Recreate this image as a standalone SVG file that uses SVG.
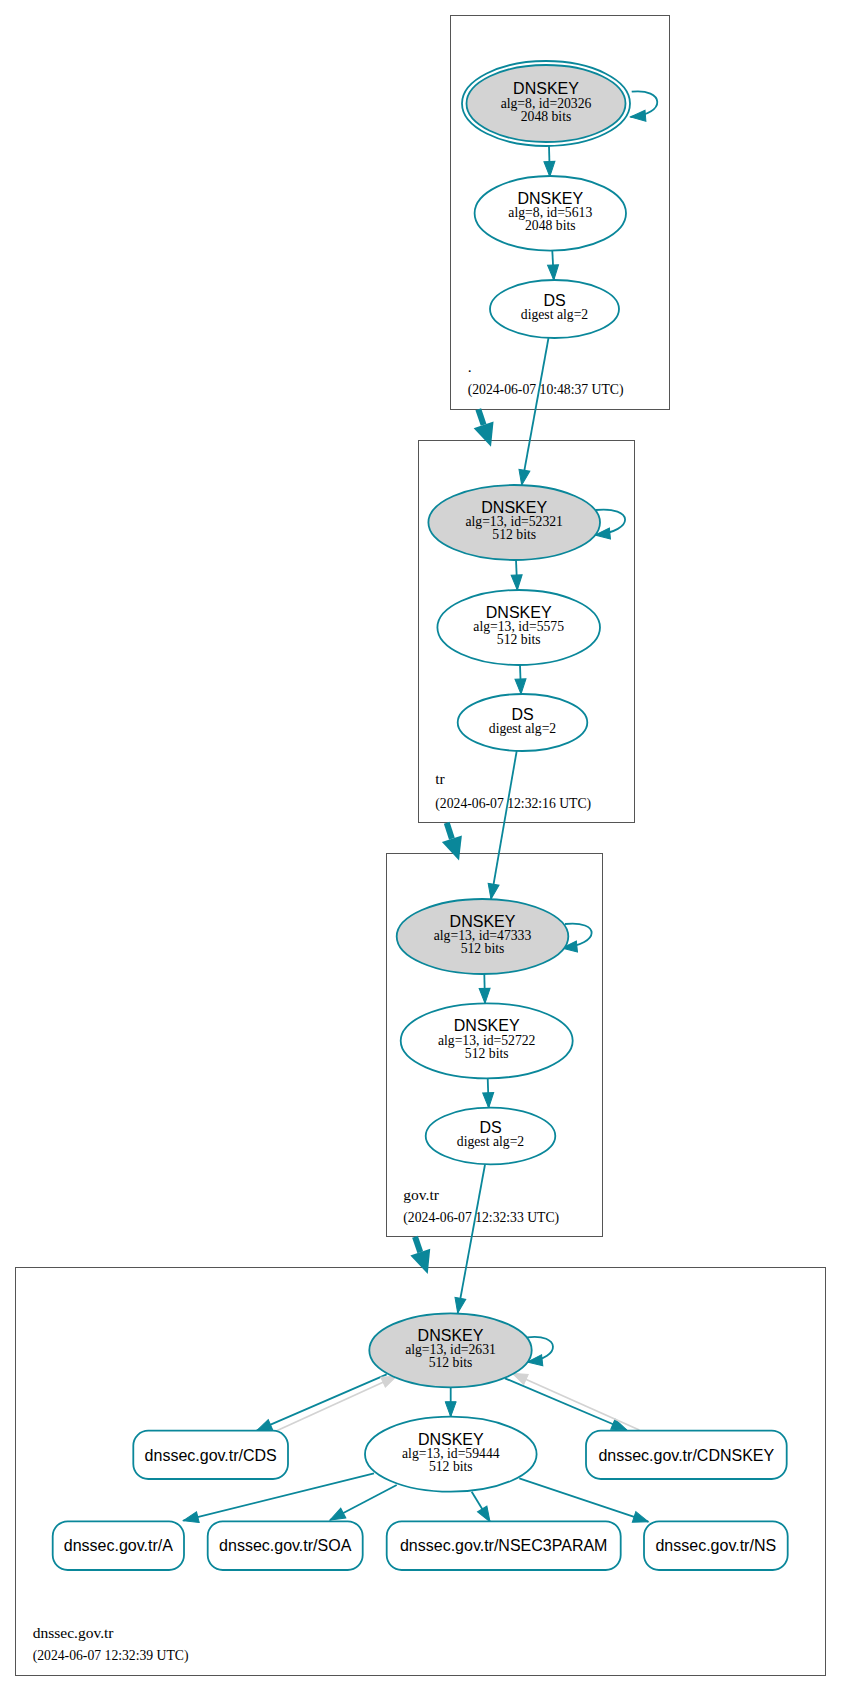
<svg xmlns="http://www.w3.org/2000/svg" width="841" height="1692" viewBox="0 0 841 1692">
<style>
.cl{fill:#fff;stroke:#555;stroke-width:1}
.nd{fill:#fff;stroke:#0a879a;stroke-width:1.8}
.ksk{fill:#d3d3d3;stroke:#0a879a;stroke-width:1.8}
.e{fill:none;stroke:#0a879a;stroke-width:1.8;marker-end:url(#ah)}
.g{fill:none;stroke:#d3d3d3;stroke-width:1.8;marker-end:url(#gh)}
.big{fill:none;stroke:#0a879a;stroke-width:6;marker-end:url(#bh)}
.h{font-family:"Liberation Sans",Arial,sans-serif;font-size:16px;text-anchor:middle;fill:#000}
.s{font-family:"Liberation Serif","Times New Roman",serif;font-size:13.7px;text-anchor:middle;fill:#000}
.zn{font-family:"Liberation Serif","Times New Roman",serif;font-size:15.5px;fill:#000}
.dt{font-family:"Liberation Serif","Times New Roman",serif;font-size:13.7px;fill:#000}
</style>
<defs>
<marker id="ah" markerUnits="userSpaceOnUse" markerWidth="17" markerHeight="13" refX="15" refY="5.5" orient="auto" overflow="visible"><path d="M0,0 L15,5.5 L0,11 z" fill="#0a879a" stroke="#0a879a" stroke-width="1"/></marker>
<marker id="gh" markerUnits="userSpaceOnUse" markerWidth="17" markerHeight="13" refX="15" refY="5.5" orient="auto" overflow="visible"><path d="M0,0 L15,5.5 L0,11 z" fill="#d3d3d3" stroke="#d3d3d3" stroke-width="1"/></marker>
<marker id="bh" markerUnits="userSpaceOnUse" markerWidth="24" markerHeight="22" refX="0" refY="10.5" orient="auto" overflow="visible"><path d="M0,0 L23,10.5 L0,21 z" fill="#0a879a"/></marker>
</defs>
<rect width="841" height="1692" fill="#fff"/>

<g id="cluster-root">
<rect class="cl" x="450.5" y="15.5" width="219" height="394"/>
<text class="zn" x="467.7" y="372">.</text>
<text class="dt" x="467.7" y="394">(2024-06-07 10:48:37 UTC)</text>
</g>
<g id="cluster-tr">
<rect class="cl" x="418.5" y="440.5" width="216" height="382"/>
<text class="zn" x="435.3" y="784">tr</text>
<text class="dt" x="435.3" y="808">(2024-06-07 12:32:16 UTC)</text>
</g>
<g id="cluster-gov-tr">
<rect class="cl" x="386.5" y="853.5" width="216" height="383"/>
<text class="zn" x="403.3" y="1200">gov.tr</text>
<text class="dt" x="403.3" y="1222">(2024-06-07 12:32:33 UTC)</text>
</g>
<g id="cluster-dnssec-gov-tr">
<rect class="cl" x="15.5" y="1267.5" width="810" height="408"/>
<text class="zn" x="32.7" y="1638">dnssec.gov.tr</text>
<text class="dt" x="32.7" y="1660">(2024-06-07 12:32:39 UTC)</text>
</g>

<g id="connectors">
<path class="big" d="M478.3,409.3 L483.6,424.9"/>
<path class="big" d="M446.7,822.7 L451.9,838.7"/>
<path class="big" d="M415,1236.7 L420.3,1252.2"/>
<path class="e" d="M631.7,91.7 C664,88 668,114 630.5,117"/>
<path class="e" d="M549,146 L549.8,176.5"/>
<path class="e" d="M552.3,250.7 L553.8,280"/>
<path class="e" d="M548.5,338 L521.7,485"/>
<path class="e" d="M595.5,510 C634,506 636,531 595,535"/>
<path class="e" d="M516,560 L517.3,590"/>
<path class="e" d="M520,665 L521,694"/>
<path class="e" d="M516.7,751 L491,899"/>
<path class="e" d="M565,924 C600,920 602,944 562,948"/>
<path class="e" d="M484.3,974 L485,1003.3"/>
<path class="e" d="M487.7,1078.3 L488.7,1107.7"/>
<path class="e" d="M485,1164.5 L457.7,1313"/>
<path class="e" d="M527.3,1337.3 C560,1333 563,1358 527.3,1362"/>
<path class="e" d="M450.7,1387.3 L450.7,1416.7"/>
<path class="e" d="M386.7,1374.3 L256.7,1430.7"/>
<path class="g" d="M276.7,1430.7 L396.7,1376"/>
<path class="e" d="M505,1378.3 L626.7,1430"/>
<path class="g" d="M639.3,1430 L512.3,1373.3"/>
<path class="e" d="M374,1473.3 L183.3,1520.7"/>
<path class="e" d="M396.7,1485 L330,1520"/>
<path class="e" d="M471.7,1491.7 L490,1521.7"/>
<path class="e" d="M519.3,1478.3 L648.3,1521.7"/>
</g>

<g id="root-dnskey-20326">
<ellipse class="nd" cx="546" cy="103.5" rx="84" ry="42.5"/>
<ellipse class="ksk" cx="546" cy="103.5" rx="79.5" ry="38.5"/>
<text class="h" x="546" y="94">DNSKEY</text>
<text class="s" x="546" y="107.5">alg=8, id=20326</text>
<text class="s" x="546" y="120.5">2048 bits</text>
</g>
<g id="root-dnskey-5613">
<ellipse class="nd" cx="550.3" cy="213.3" rx="75.7" ry="37.3"/>
<text class="h" x="550.3" y="204">DNSKEY</text>
<text class="s" x="550.3" y="217.3">alg=8, id=5613</text>
<text class="s" x="550.3" y="230.3">2048 bits</text>
</g>
<g id="root-ds">
<ellipse class="nd" cx="554.5" cy="309" rx="64.5" ry="29"/>
<text class="h" x="554.5" y="306">DS</text>
<text class="s" x="554.5" y="319">digest alg=2</text>
</g>

<g id="tr-dnskey-52321">
<ellipse class="ksk" cx="514.2" cy="522.5" rx="85.8" ry="37.5"/>
<text class="h" x="514.2" y="513">DNSKEY</text>
<text class="s" x="514.2" y="526.3">alg=13, id=52321</text>
<text class="s" x="514.2" y="539.3">512 bits</text>
</g>
<g id="tr-dnskey-5575">
<ellipse class="nd" cx="518.7" cy="627.5" rx="81.3" ry="37.5"/>
<text class="h" x="518.7" y="618">DNSKEY</text>
<text class="s" x="518.7" y="631.3">alg=13, id=5575</text>
<text class="s" x="518.7" y="644.3">512 bits</text>
</g>
<g id="tr-ds">
<ellipse class="nd" cx="522.5" cy="722.5" rx="64.8" ry="28.5"/>
<text class="h" x="522.5" y="719.5">DS</text>
<text class="s" x="522.5" y="732.5">digest alg=2</text>
</g>

<g id="gov-tr-dnskey-47333">
<ellipse class="ksk" cx="482.5" cy="936.5" rx="85.8" ry="37.5"/>
<text class="h" x="482.5" y="927">DNSKEY</text>
<text class="s" x="482.5" y="940.3">alg=13, id=47333</text>
<text class="s" x="482.5" y="953.3">512 bits</text>
</g>
<g id="gov-tr-dnskey-52722">
<ellipse class="nd" cx="486.7" cy="1040.8" rx="86" ry="37.5"/>
<text class="h" x="486.7" y="1031.3">DNSKEY</text>
<text class="s" x="486.7" y="1044.6">alg=13, id=52722</text>
<text class="s" x="486.7" y="1057.6">512 bits</text>
</g>
<g id="gov-tr-ds">
<ellipse class="nd" cx="490.5" cy="1136" rx="64.8" ry="28.3"/>
<text class="h" x="490.5" y="1133">DS</text>
<text class="s" x="490.5" y="1146">digest alg=2</text>
</g>

<g id="dnssec-dnskey-2631">
<ellipse class="ksk" cx="450.5" cy="1350.3" rx="81.2" ry="37"/>
<text class="h" x="450.5" y="1340.8">DNSKEY</text>
<text class="s" x="450.5" y="1354">alg=13, id=2631</text>
<text class="s" x="450.5" y="1367">512 bits</text>
</g>
<g id="dnssec-dnskey-59444">
<ellipse class="nd" cx="450.8" cy="1454.2" rx="85.8" ry="37.5"/>
<text class="h" x="450.8" y="1444.7">DNSKEY</text>
<text class="s" x="450.8" y="1458">alg=13, id=59444</text>
<text class="s" x="450.8" y="1471">512 bits</text>
</g>
<g id="rr-cds">
<rect class="nd" x="133.3" y="1430.7" width="154.7" height="48.3" rx="15"/>
<text class="h" x="210.7" y="1460.5">dnssec.gov.tr/CDS</text>
</g>
<g id="rr-cdnskey">
<rect class="nd" x="586" y="1430.7" width="200.7" height="48.3" rx="15"/>
<text class="h" x="686.3" y="1460.5">dnssec.gov.tr/CDNSKEY</text>
</g>
<g id="rr-a">
<rect class="nd" x="52.7" y="1521.3" width="131.3" height="48.7" rx="15"/>
<text class="h" x="118.3" y="1551">dnssec.gov.tr/A</text>
</g>
<g id="rr-soa">
<rect class="nd" x="207.7" y="1521.3" width="155" height="48.7" rx="15"/>
<text class="h" x="285.2" y="1551">dnssec.gov.tr/SOA</text>
</g>
<g id="rr-nsec3param">
<rect class="nd" x="386.7" y="1521.3" width="234" height="48.7" rx="15"/>
<text class="h" x="503.7" y="1551">dnssec.gov.tr/NSEC3PARAM</text>
</g>
<g id="rr-ns">
<rect class="nd" x="644" y="1521.3" width="143.7" height="48.7" rx="15"/>
<text class="h" x="715.8" y="1551">dnssec.gov.tr/NS</text>
</g>
</svg>
